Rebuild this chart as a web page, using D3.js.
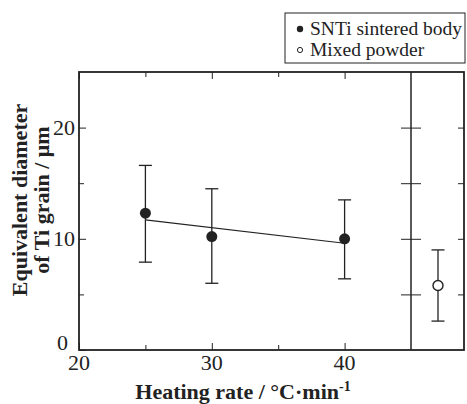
<!DOCTYPE html>
<html>
<head>
<meta charset="utf-8">
<script src="https://cdn.jsdelivr.net/npm/d3@7"></script>
<style>
  html, body { margin: 0; padding: 0; background: #fff; }
  svg { display: block; }
  text { font-family: "Liberation Serif", "Times New Roman", serif; fill: #222; }
</style>
</head>
<body>
<script>
// Heating rate (°C/min) for the sintered bodies
const heatingRates = [25, 30, 40];
// Mean equivalent Ti grain diameter (µm) and error-bar limits
const grainMean = [12.3, 10.2, 10.0];
const grainUpper = [16.6, 14.5, 13.5];
const grainLower = [7.9, 6.0, 6.4];
// Mixed powder reference
const powderMean = [5.8];
const powderUpper = [9.0];
const powderLower = [2.6];
// Trend line end points
const trendX = [25, 40];
const trendY = [11.7, 9.6];
// Tick values
const xMajorTicks = [20, 30, 40];
const xMinorTicks = [25, 35];
const yMajorTicks = [0, 10, 20];
const yMinorTicks = [5, 15];
const legendLabels = ["SNTi sintered body", "Mixed powder"];

const W = 467, H = 404;
const svg = d3.select("body").append("svg").attr("width", W).attr("height", H);
const ink = "#222";

const plotLeft = 79, plotRight = 411, plotTop = 72, plotBottom = 350, panelRight = 465;
const x = d3.scaleLinear().domain([20, 45]).range([plotLeft, plotRight]);
const y = d3.scaleLinear().domain([0, 25]).range([plotBottom, plotTop]);
const x2 = d3.scaleLinear().domain([0, 1]).range([plotRight, panelRight]);

// Inward tick marks
function tickAxis(axisFn, scale, values, size, transform) {
  const g = svg.append("g").attr("transform", transform)
    .call(axisFn(scale).tickValues(values).tickSizeInner(size).tickSizeOuter(0).tickFormat(""));
  g.select(".domain").remove();
  g.selectAll("line").attr("stroke", ink).attr("stroke-width", 1);
  return g;
}
const allY = yMajorTicks.concat(yMinorTicks).filter(d => d > 0);
tickAxis(d3.axisBottom, x, xMajorTicks, -7, `translate(0,${plotBottom})`);
tickAxis(d3.axisBottom, x, xMinorTicks, -5, `translate(0,${plotBottom})`);
tickAxis(d3.axisTop, x, xMajorTicks, -7, `translate(0,${plotTop})`);
tickAxis(d3.axisTop, x, xMinorTicks, -5, `translate(0,${plotTop})`);
tickAxis(d3.axisLeft, y, yMajorTicks, -7, `translate(${plotLeft},0)`);
tickAxis(d3.axisLeft, y, yMinorTicks, -5, `translate(${plotLeft},0)`);
tickAxis(d3.axisLeft, y, allY, 10, `translate(${plotRight},0)`);
tickAxis(d3.axisLeft, y, allY, -10, `translate(${plotRight},0)`);
tickAxis(d3.axisRight, y, allY, -6, `translate(${panelRight - 1},0)`);

// Tick labels
svg.append("g").selectAll("text").data(xMajorTicks).join("text")
  .attr("x", d => x(d)).attr("y", plotBottom + 20)
  .attr("text-anchor", "middle").attr("font-size", 22).text(d => d);
svg.append("g").selectAll("text").data(yMajorTicks).join("text")
  .attr("x", d => d === 0 ? plotLeft - 11 : plotLeft - 4)
  .attr("y", d => y(d) + 7.5 - (d === 0 ? 8 : 0))
  .attr("text-anchor", "end").attr("font-size", 22).text(d => d);

// Frames
svg.append("rect").attr("x", plotLeft).attr("y", plotTop)
  .attr("width", panelRight - 1 - plotLeft).attr("height", plotBottom - plotTop)
  .attr("fill", "none").attr("stroke", ink).attr("stroke-width", 1.8);
svg.append("line").attr("x1", plotRight).attr("x2", plotRight).attr("y1", plotTop).attr("y2", plotBottom)
  .attr("stroke", ink).attr("stroke-width", 1.5);

// Trend line
svg.append("path")
  .attr("d", d3.line().x((d, i) => x(trendX[i])).y(d => y(d))(trendY))
  .attr("fill", "none").attr("stroke", ink).attr("stroke-width", 1.1);

// Error bars
function errorBars(xs, lo, hi, xScale) {
  const g = svg.append("g").attr("stroke", ink).attr("stroke-width", 1.3);
  xs.forEach((xv, i) => {
    const cx = xScale(xv);
    g.append("line").attr("x1", cx).attr("x2", cx).attr("y1", y(lo[i])).attr("y2", y(hi[i]));
    g.append("line").attr("x1", cx - 6.5).attr("x2", cx + 6.5).attr("y1", y(hi[i])).attr("y2", y(hi[i]));
    g.append("line").attr("x1", cx - 6.5).attr("x2", cx + 6.5).attr("y1", y(lo[i])).attr("y2", y(lo[i]));
  });
}
errorBars(heatingRates, grainLower, grainUpper, x);
errorBars([0.5], powderLower, powderUpper, x2);

// Markers
svg.append("g").selectAll("circle").data(grainMean).join("circle")
  .attr("cx", (d, i) => x(heatingRates[i])).attr("cy", d => y(d)).attr("r", 5.5)
  .attr("fill", ink);
svg.append("g").selectAll("circle").data(powderMean).join("circle")
  .attr("cx", x2(0.5)).attr("cy", d => y(d)).attr("r", 5)
  .attr("fill", "#fff").attr("stroke", ink).attr("stroke-width", 1.4);

// Legend
const lg = svg.append("g");
lg.append("rect").attr("x", 285).attr("y", 13).attr("width", 180).attr("height", 50)
  .attr("fill", "#fff").attr("stroke", ink).attr("stroke-width", 1);
lg.append("circle").attr("cx", 300).attr("cy", 29).attr("r", 3.2).attr("fill", ink);
lg.append("circle").attr("cx", 300).attr("cy", 50).attr("r", 2.6).attr("fill", "#fff")
  .attr("stroke", ink).attr("stroke-width", 1);
lg.selectAll("text.lab").data(legendLabels).join("text").attr("class", "lab")
  .attr("x", 310).attr("y", (d, i) => 35 + i * 21).attr("font-size", 19.5).text(d => d);

// Axis titles
const xt = svg.append("text").attr("x", 243).attr("y", 399)
  .attr("text-anchor", "middle").attr("font-size", 22).attr("font-weight", "bold");
xt.append("tspan").text("Heating rate / °C·min");
xt.append("tspan").attr("dy", -8).attr("font-size", 14).text("-1");

const yt = svg.append("text").attr("transform", "translate(0,200) rotate(-90)")
  .attr("text-anchor", "middle").attr("font-size", 22).attr("font-weight", "bold");
yt.append("tspan").attr("x", 0).attr("y", 27).text("Equivalent diameter");
yt.append("tspan").attr("x", 0).attr("y", 49).text("of Ti grain / μm");
</script>
</body>
</html>
